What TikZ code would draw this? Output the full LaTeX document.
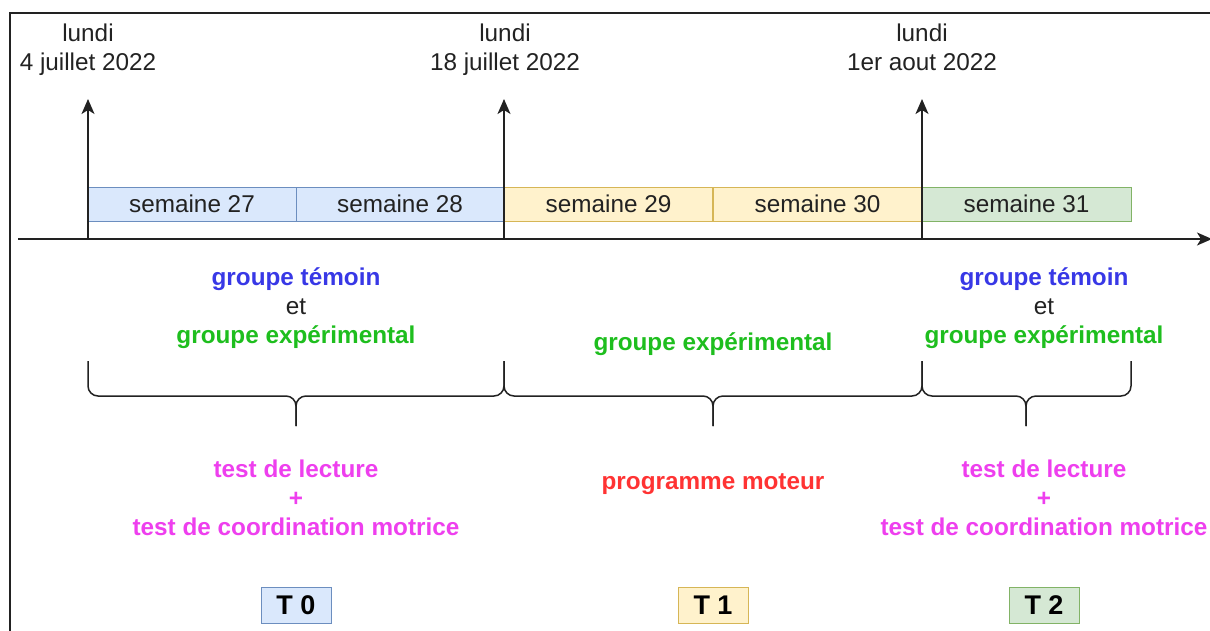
\documentclass[tikz,border=0pt]{standalone}
\usepackage{fontspec}
\setmainfont{Liberation Sans}
\usetikzlibrary{arrows.meta}
\definecolor{bfill}{HTML}{DAE8FC}\definecolor{bdraw}{HTML}{6C8EBF}
\definecolor{yfill}{HTML}{FFF2CC}\definecolor{ydraw}{HTML}{D6B656}
\definecolor{gfill}{HTML}{D5E8D4}\definecolor{gdraw}{HTML}{82B366}
\definecolor{tblue}{HTML}{3838E6}
\definecolor{tgreen}{HTML}{1EBE1E}
\definecolor{tpink}{HTML}{EE3FEE}
\definecolor{tred}{HTML}{FF3333}
\definecolor{ink}{HTML}{222222}
\tikzset{
  week/.style={draw, line width=1pt, minimum width=208pt, minimum height=34pt, inner sep=0pt, font=\fontsize{24.3}{28}\selectfont, text=ink},
  wblue/.style={week, fill=bfill, draw=bdraw},
  wyellow/.style={week, fill=yfill, draw=ydraw},
  wgreen/.style={week, fill=gfill, draw=gdraw},
  datelbl/.style={align=center, anchor=north, font=\fontsize{24.3}{29}\selectfont, text=ink, inner sep=0pt},
  grp/.style={align=center, font=\fontsize{24.3}{29}\selectfont\bfseries, inner sep=0pt},
  tbox/.style={draw, line width=1pt, minimum width=70pt, minimum height=36pt, inner sep=0pt, font=\fontsize{27}{30}\selectfont\bfseries},
  axis/.style={line width=1.5pt, draw=ink, -{Stealth[length=15pt,width=13pt,inset=4pt]}},
  brace/.style={line width=1.5pt, draw=ink, rounded corners=10pt},
}
\begin{document}
\begin{tikzpicture}[x=1pt,y=-1pt]
\useasboundingbox (0,0) rectangle (1210,630);
% frame
\draw[line width=1.5pt, draw=ink] (10,640) -- (10,13) -- (1220,13);
% axis
\coordinate (axL) at (18,239);
\coordinate (axR) at (1212,239);
\draw[axis] (axL) -- (axR);
% week boxes
\node[wblue]   (w27) at (192,204) {semaine 27};
\node[wblue]   (w28) at (400,204) {semaine 28};
\node[wyellow] (w29) at (608.5,204) {semaine 29};
\node[wyellow] (w30) at (817.5,204) {semaine 30};
\node[wgreen, minimum width=209pt]  (w31) at (1026.5,204) {semaine 31};
% date markers
\coordinate (m0) at (88,239);  \coordinate (m0t) at (88,99);
\coordinate (m1) at (504,239); \coordinate (m1t) at (504,99);
\coordinate (m2) at (922,239); \coordinate (m2t) at (922,99);
\draw[axis] (m0) -- (m0t);
\draw[axis] (m1) -- (m1t);
\draw[axis] (m2) -- (m2t);
\node[datelbl] (d0) at (88,24)  {lundi\\4 juillet 2022};
\node[datelbl] (d1) at (505,24) {lundi\\18 juillet 2022};
\node[datelbl] (d2) at (922,24) {lundi\\1er aout 2022};
% groups
\node[grp] (g0) at (296,308) {\textcolor{tblue}{groupe témoin}\\\textcolor{ink}{\mdseries et}\\\textcolor{tgreen}{groupe expérimental}};
\node[grp, text=tgreen] (g1) at (713,344) {groupe expérimental};
\node[grp] (g2) at (1044,308) {\textcolor{tblue}{groupe témoin}\\\textcolor{ink}{\mdseries et}\\\textcolor{tgreen}{groupe expérimental}};
% braces
\coordinate (b0) at (296,426);
\coordinate (b1) at (713,426);
\coordinate (b2) at (1026,426);
\draw[brace] (88,361) -- (88,396) -- (296,396) -- (b0);
\draw[brace] (504,361) -- (504,396) -- (296,396) -- (b0);
\draw[brace] (504,361) -- (504,396) -- (713,396) -- (b1);
\draw[brace] (922,361) -- (922,396) -- (713,396) -- (b1);
\draw[brace] (922,361) -- (922,396) -- (1026,396) -- (b2);
\draw[brace] (1131,361) -- (1131,396) -- (1026,396) -- (b2);
% activities
\node[grp, text=tpink] (a0) at (296,498) {test de lecture\\+\\test de coordination motrice};
\node[grp, text=tred] (a1) at (713,484) {programme moteur};
\node[grp, text=tpink] (a2) at (1044,498) {test de lecture\\+\\test de coordination motrice};
% T boxes
\node[tbox, fill=bfill, draw=bdraw] (T0) at (296,605) {T 0};
\node[tbox, fill=yfill, draw=ydraw] (T1) at (713,605) {T 1};
\node[tbox, fill=gfill, draw=gdraw] (T2) at (1044,605) {T 2};
\end{tikzpicture}
\end{document}
